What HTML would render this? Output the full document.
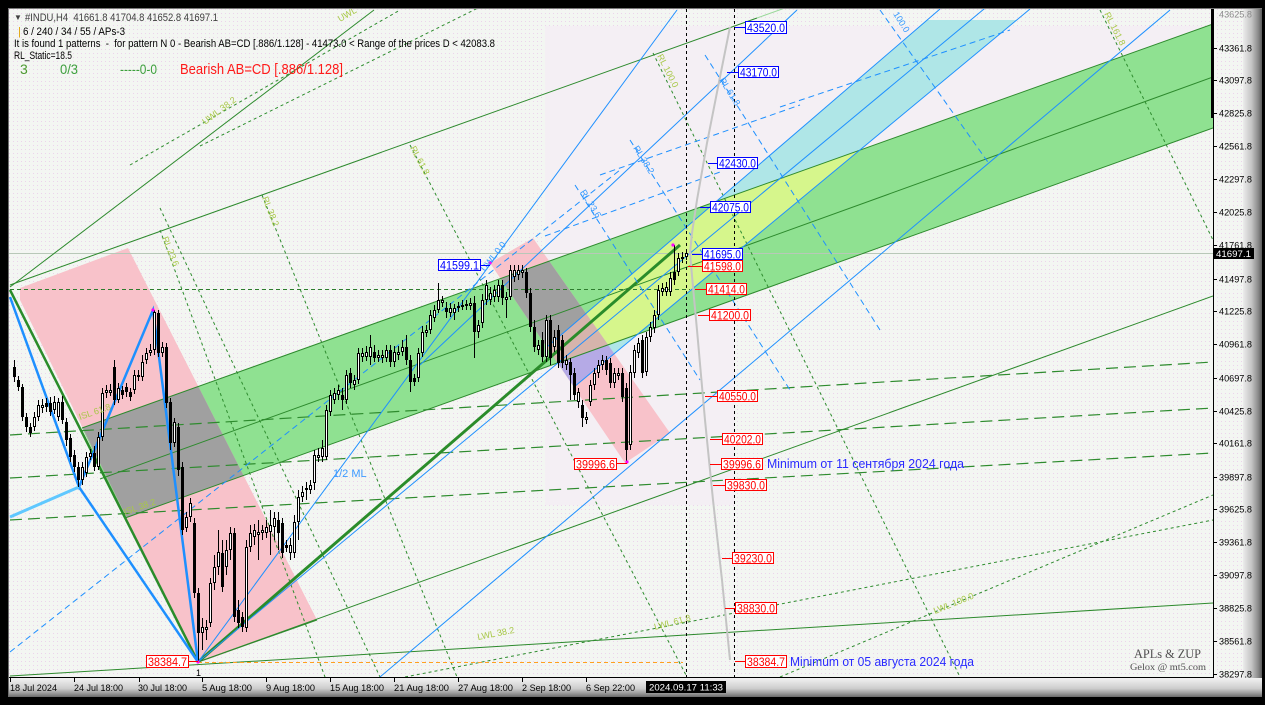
<!DOCTYPE html>
<html><head><meta charset="utf-8"><style>
html,body{margin:0;padding:0;background:#000;width:1265px;height:705px;overflow:hidden}
svg{display:block}
text{font-family:"Liberation Sans","DejaVu Sans",sans-serif}
</style></head><body>
<svg width="1265" height="705" viewBox="0 0 1265 705" xmlns="http://www.w3.org/2000/svg">
<defs>
<pattern id="dots" width="4" height="4" patternUnits="userSpaceOnUse"><rect width="4" height="4" fill="#f3f6f2"/><rect x="1" y="1" width="1" height="1" fill="#ecd3ec"/></pattern>
<linearGradient id="rb" x1="0" y1="0" x2="1" y2="0"><stop offset="0" stop-color="#ececec"/><stop offset="0.45" stop-color="#c4c4c4"/><stop offset="0.8" stop-color="#8a8a8a"/><stop offset="1" stop-color="#5a5a5a"/></linearGradient>
<linearGradient id="bb" x1="0" y1="0" x2="0" y2="1"><stop offset="0" stop-color="#f2f2f2"/><stop offset="0.55" stop-color="#cdcdcd"/><stop offset="0.8" stop-color="#9a9a9a"/><stop offset="1" stop-color="#6a6a6a"/></linearGradient>
<clipPath id="pc"><rect x="9" y="9" width="1204" height="668"/></clipPath>
<clipPath id="gc"><polygon points="82,428 1213,24 1213,128 125,518"/></clipPath>
<clipPath id="p2c"><polygon points="490,263 533,238 670,433 625,463"/></clipPath>
</defs>

<rect x="0" y="0" width="1265" height="705" fill="#000"/>
<rect x="9" y="9" width="1250" height="688" fill="url(#dots)"/>
<rect x="1243" y="9" width="19" height="688" fill="url(#rb)"/>
<rect x="9" y="678" width="1253" height="19" fill="url(#bb)"/>
<line x1="8.5" y1="8" x2="8.5" y2="697" stroke="#6e6e6e"/>
<line x1="8" y1="8.5" x2="1262" y2="8.5" stroke="#7a7a7a"/>

<g clip-path="url(#pc)">
<polygon points="545,26 1213,26 1213,128 735,299 735,505 545,505" fill="#f4eff4"/>
<polygon points="82,428 1213,24 1213,128 125,518" fill="#8fe191"/>
<polygon points="20,288 128,248 317,620 198,663 20,300" fill="#f8c2ca"/>
<polygon points="490,263 533,238 670,433 625,463" fill="#f8c2ca"/>
<polygon points="927,20 1017,20 574,387 547,347" fill="#afe6e7"/>
<g clip-path="url(#gc)">
<polygon points="20,288 128,248 317,620 198,663 20,300" fill="#a0a0a0"/>
<polygon points="490,263 533,238 670,433 625,463" fill="#a0a0a0"/>
<polygon points="927,20 1017,20 574,387 547,347" fill="#d6f68c"/>
</g>
<polygon points="927,20 1017,20 574,387 547,347" fill="#b5aae6" clip-path="url(#p2c)"/>
<g clip-path="url(#gc)"><polygon points="927,20 1017,20 574,387 547,347" fill="#d6b4ac" clip-path="url(#p2c)"/></g>

<line x1="9" y1="253.5" x2="1213" y2="253.5" stroke="#b8c8b8"/>

<g stroke="#2d8a2d" stroke-width="1" fill="none">
<line x1="10" y1="285" x2="757" y2="18"/>
<line x1="757" y1="18" x2="785" y2="8" stroke="#9ad89a"/>
<line x1="82" y1="428" x2="1213" y2="24"/>
<line x1="100" y1="479" x2="1213" y2="77"/>
<line x1="125" y1="518" x2="1213" y2="128"/>
<line x1="198" y1="662" x2="1213" y2="296"/>
<line x1="10" y1="676" x2="1213" y2="603"/>
<line x1="10" y1="287" x2="374" y2="10"/>
<line x1="198" y1="662" x2="317" y2="620"/>
</g>
<g stroke="#2a8c2a" fill="none">
<line x1="198" y1="662" x2="680" y2="245" stroke-width="3"/>
<line x1="10" y1="290" x2="198" y2="662" stroke-width="2.5"/>
</g>
<g stroke="#2e8b2e" stroke-width="1.2" stroke-dasharray="12 6" fill="none">
<line x1="10" y1="435" x2="1213" y2="362"/>
<line x1="10" y1="478" x2="1213" y2="408"/>
<line x1="10" y1="520" x2="1213" y2="453"/>
</g>
<g stroke="#2e8b2e" stroke-width="1" stroke-dasharray="3 3" fill="none">
<line x1="160" y1="230" x2="325" y2="677"/>
<line x1="160" y1="208" x2="380" y2="677"/>
<line x1="262" y1="195" x2="457" y2="677"/>
<line x1="410" y1="145" x2="687" y2="677"/>
<line x1="653" y1="53" x2="960" y2="677"/>
<line x1="1100" y1="10" x2="1213" y2="240"/>
<line x1="405" y1="677" x2="1213" y2="520"/>
<line x1="780" y1="677" x2="1213" y2="495"/>
<line x1="130" y1="165" x2="400" y2="10"/>
<line x1="200" y1="146" x2="480" y2="7"/>
</g>
<line x1="10" y1="289.5" x2="690" y2="289.5" stroke="#2e7d2e" stroke-dasharray="4 3"/>
<line x1="198" y1="662.5" x2="683" y2="662.5" stroke="#ffa020" stroke-dasharray="4 3"/>

<g stroke="#1e90ff" stroke-width="1" fill="none">
<line x1="198" y1="662" x2="677" y2="10"/>
<line x1="380" y1="677" x2="1170" y2="10"/>
<line x1="420" y1="365" x2="797" y2="10"/>
<line x1="198" y1="662" x2="990" y2="4"/>
<line x1="940" y1="9" x2="547" y2="347"/>
<line x1="1030" y1="9" x2="574" y2="387"/>
</g>
<g stroke="#1e90ff" stroke-width="1" stroke-dasharray="6 4" fill="none">
<line x1="10" y1="652" x2="620" y2="170"/>
<line x1="545" y1="236" x2="720" y2="172"/>
<line x1="600" y1="175" x2="800" y2="105"/>
<line x1="780" y1="107" x2="1010" y2="30"/>
<line x1="880" y1="10" x2="990" y2="165"/>
<line x1="705" y1="55" x2="880" y2="330"/>
<line x1="630" y1="140" x2="790" y2="390"/>
<line x1="575" y1="185" x2="700" y2="380"/>
</g>
<polyline points="10,297 79,487 153,310 198,662" stroke="#1e90ff" stroke-width="2.5" fill="none"/>
<line x1="79" y1="487" x2="198" y2="662" stroke="#1e90ff" stroke-width="2.5"/>
<line x1="10" y1="517" x2="79" y2="487" stroke="#5fc8ff" stroke-width="3"/>

<polyline points="730,27 720,77 707,143 697,200 692,233 690,253 693,287 697,330 705,420 713,500 722,580 730,660" stroke="#c4c4c4" stroke-width="2" fill="none"/>

<line x1="686.5" y1="9" x2="686.5" y2="677" stroke="#000" stroke-dasharray="3 3"/>
<line x1="734.5" y1="9" x2="734.5" y2="677" stroke="#000" stroke-dasharray="3 3"/>

<path stroke="#000" stroke-width="1" fill="none" d="M14.5 360V382M18.5 376V391M22.5 384V421M26.5 413V432M30.5 423V437M34.5 412V431M38.5 400V421M42.5 399V413M46.5 398V412M50.5 397V416M54.5 396V414M58.5 398V421M62.5 396V424M66.5 418V446M70.5 434V462M74.5 450V472M78.5 462V487M82.5 462V485M86.5 452V477M90.5 449V460M94.5 446V471M98.5 432V470M102.5 388V441M106.5 385V398M110.5 384V396M114.5 360V405M118.5 383V403M122.5 386V399M126.5 383V397M130.5 388V401M134.5 370V394M138.5 370V381M142.5 355V381M146.5 348V364M150.5 344V356M154.5 310V355M158.5 310V357M162.5 342V357M166.5 343V408M170.5 398V450M174.5 418V447M178.5 423V476M182.5 462V535M186.5 512V532M190.5 498V522M194.5 518V598M198.5 588V662M202.5 618V650M206.5 620V640M210.5 578V627M214.5 555V590M218.5 530V575M222.5 540V592M226.5 540V575M230.5 527V560M234.5 528V622M238.5 600V628M242.5 612V632M246.5 540V632M250.5 525V552M254.5 524V545M258.5 520V560M262.5 525V540M266.5 520V538M270.5 510V555M274.5 512V540M278.5 512V550M282.5 518V558M286.5 540V552M290.5 538V560M294.5 515V558M298.5 490V540M302.5 486V502M306.5 482V500M310.5 480V494M314.5 450V490M318.5 448V462M322.5 440V462M326.5 405V460M330.5 390V416M334.5 388V404M338.5 385V400M342.5 388V410M346.5 370V404M350.5 368V388M354.5 375V390M358.5 348V384M362.5 348V362M366.5 346V361M370.5 335V365M374.5 345V362M378.5 350V362M382.5 350V363M386.5 345V362M390.5 345V367M394.5 346V367M398.5 346V360M402.5 340V356M406.5 335V365M410.5 355V392M414.5 374V386M418.5 348V382M422.5 326V357M426.5 325V337M430.5 310V334M434.5 305V322M438.5 283V313M442.5 296V307M446.5 302V318M450.5 303V317M454.5 304V320M458.5 302V312M462.5 300V310M466.5 300V310M470.5 298V310M474.5 296V358M478.5 320V338M482.5 294V328M486.5 280V305M490.5 287V305M494.5 285V302M498.5 280V302M502.5 280V305M506.5 292V318M510.5 265V300M514.5 265V282M518.5 265V280M522.5 265V278M526.5 268V298M530.5 288V332M534.5 320V352M538.5 340V355M542.5 332V362M546.5 315V362M550.5 315V365M554.5 330V352M558.5 325V368M562.5 335V368M566.5 355V370M570.5 358V400M574.5 368V400M578.5 388V408M582.5 400V427M586.5 412V424M590.5 380V406M594.5 368V390M598.5 360V378M602.5 355V370M606.5 356V375M610.5 358V388M614.5 368V388M618.5 368V380M622.5 368V402M626.5 383V462M630.5 365V450M634.5 345V378M638.5 338V358M642.5 335V378M646.5 332V376M650.5 322V342M654.5 310V333M658.5 285V320M662.5 283V296M666.5 282V296M670.5 272V296M674.5 245V285M678.5 253V276M682.5 252V263M686.5 250V260"/>
<path fill="#000" d="M13 367h3v10h-3zM17 380h3v7h-3zM21 387h3v30h-3zM25 417h3v10h-3zM29 427h3v6h-3zM45 403h3v4h-3zM49 403h3v9h-3zM61 402h3v18h-3zM65 422h3v18h-3zM69 438h3v19h-3zM73 455h3v12h-3zM77 467h3v13h-3zM93 453h3v14h-3zM113 367h3v33h-3zM121 390h3v5h-3zM125 387h3v5h-3zM129 392h3v5h-3zM157 313h3v40h-3zM165 347h3v56h-3zM169 402h3v41h-3zM177 427h3v43h-3zM181 467h3v63h-3zM193 523h3v70h-3zM197 593h3v40h-3zM221 553h3v34h-3zM233 533h3v84h-3zM237 610h3v13h-3zM241 617h3v10h-3zM277 520h3v13h-3zM281 523h3v30h-3zM285 545h3v3h-3zM341 395h3v5h-3zM349 373h3v10h-3zM373 352h3v6h-3zM389 350h3v12h-3zM405 347h3v13h-3zM409 360h3v22h-3zM413 378h3v4h-3zM445 308h3v4h-3zM473 303h3v29h-3zM501 285h3v13h-3zM525 272h3v21h-3zM529 293h3v34h-3zM533 327h3v20h-3zM541 340h3v17h-3zM549 320h3v38h-3zM557 330h3v33h-3zM561 340h3v23h-3zM569 362h3v13h-3zM573 373h3v22h-3zM581 405h3v13h-3zM605 360h3v10h-3zM609 363h3v20h-3zM621 373h3v24h-3zM625 388h3v62h-3zM641 340h3v33h-3zM673 272h3v8h-3z"/>
<path fill="#fff" stroke="#000" stroke-width="1" d="M33.5 417.5h2v9h-2zM37.5 405.5h2v11h-2zM41.5 405.5h2v2h-2zM53.5 402.5h2v7h-2zM57.5 402.5h2v14h-2zM81.5 467.5h2v12h-2zM85.5 457.5h2v15h-2zM89.5 453.5h2v3h-2zM97.5 437.5h2v29h-2zM101.5 393.5h2v43h-2zM105.5 390.5h2v2h-2zM109.5 390.5h2v2h-2zM117.5 388.5h2v11h-2zM133.5 375.5h2v14h-2zM137.5 375.5h2v1h-2zM141.5 362.5h2v14h-2zM145.5 353.5h2v6h-2zM149.5 350.5h2v2h-2zM153.5 312.5h2v37h-2zM161.5 347.5h2v5h-2zM173.5 422.5h2v20h-2zM185.5 517.5h2v10h-2zM189.5 503.5h2v13h-2zM201.5 627.5h2v5h-2zM205.5 627.5h2v2h-2zM209.5 583.5h2v39h-2zM213.5 567.5h2v15h-2zM217.5 552.5h2v14h-2zM225.5 550.5h2v16h-2zM229.5 533.5h2v16h-2zM245.5 547.5h2v80h-2zM249.5 533.5h2v13h-2zM253.5 530.5h2v6h-2zM257.5 532.5h2v2h-2zM261.5 530.5h2v2h-2zM265.5 527.5h2v5h-2zM269.5 525.5h2v6h-2zM273.5 518.5h2v8h-2zM289.5 545.5h2v7h-2zM293.5 522.5h2v30h-2zM297.5 497.5h2v24h-2zM301.5 492.5h2v4h-2zM305.5 488.5h2v1h-2zM309.5 485.5h2v4h-2zM313.5 455.5h2v27h-2zM317.5 455.5h2v2h-2zM321.5 448.5h2v8h-2zM325.5 410.5h2v46h-2zM329.5 395.5h2v16h-2zM333.5 393.5h2v6h-2zM337.5 390.5h2v4h-2zM345.5 375.5h2v24h-2zM353.5 380.5h2v4h-2zM357.5 353.5h2v26h-2zM361.5 353.5h2v3h-2zM365.5 352.5h2v4h-2zM369.5 347.5h2v9h-2zM377.5 355.5h2v2h-2zM381.5 355.5h2v2h-2zM385.5 350.5h2v7h-2zM393.5 352.5h2v9h-2zM397.5 352.5h2v2h-2zM401.5 347.5h2v4h-2zM417.5 353.5h2v24h-2zM421.5 332.5h2v20h-2zM425.5 330.5h2v2h-2zM429.5 315.5h2v14h-2zM433.5 310.5h2v7h-2zM437.5 300.5h2v9h-2zM441.5 300.5h2v2h-2zM449.5 308.5h2v4h-2zM453.5 308.5h2v4h-2zM457.5 306.5h2v1h-2zM461.5 305.5h2v1h-2zM465.5 304.5h2v1h-2zM469.5 303.5h2v2h-2zM477.5 325.5h2v6h-2zM481.5 300.5h2v22h-2zM485.5 285.5h2v14h-2zM489.5 293.5h2v6h-2zM493.5 290.5h2v6h-2zM497.5 285.5h2v11h-2zM505.5 297.5h2v2h-2zM509.5 270.5h2v26h-2zM513.5 270.5h2v6h-2zM517.5 270.5h2v4h-2zM521.5 270.5h2v2h-2zM537.5 345.5h2v4h-2zM545.5 320.5h2v36h-2zM553.5 337.5h2v9h-2zM565.5 360.5h2v4h-2zM577.5 392.5h2v9h-2zM585.5 417.5h2v2h-2zM589.5 385.5h2v16h-2zM593.5 373.5h2v11h-2zM597.5 365.5h2v7h-2zM601.5 360.5h2v4h-2zM613.5 373.5h2v9h-2zM617.5 373.5h2v2h-2zM629.5 372.5h2v72h-2zM633.5 350.5h2v22h-2zM637.5 343.5h2v9h-2zM645.5 337.5h2v34h-2zM649.5 327.5h2v9h-2zM653.5 315.5h2v12h-2zM657.5 290.5h2v24h-2zM661.5 288.5h2v3h-2zM665.5 287.5h2v4h-2zM669.5 278.5h2v13h-2zM677.5 258.5h2v13h-2zM681.5 257.5h2v1h-2zM685.5 253.5h2v3h-2z"/>

<g fill="#ff00ff"><circle cx="153" cy="310" r="1.6"/><circle cx="198" cy="662" r="1.6"/><circle cx="490" cy="263" r="1.6"/><circle cx="673" cy="245" r="1.6"/><circle cx="627" cy="462" r="1.6"/></g>

<g font-size="9" fill="#a8c848">
<text x="205" y="125" transform="rotate(-37 205 125)">UWL 38.2</text>
<text x="340" y="22" transform="rotate(-30 340 22)">UWL</text>
<text x="162" y="238" transform="rotate(68 162 238)">RL 23.6</text>
<text x="262" y="198" transform="rotate(68 262 198)">RL 38.2</text>
<text x="410" y="148" transform="rotate(62 410 148)">RL 61.8</text>
<text x="657" y="56" transform="rotate(63 657 56)">RL 100.0</text>
<text x="1104" y="14" transform="rotate(63 1104 14)">RL 161.8</text>
<text x="478" y="640" transform="rotate(-11 478 640)">LWL 38.2</text>
<text x="655" y="630" transform="rotate(-15 655 630)">LWL 61.8</text>
<text x="935" y="614" transform="rotate(-22 935 614)">LWL 100.0</text>
<text x="80" y="420" transform="rotate(-19 80 420)">ISL 61.8</text>
<text x="125" y="515" transform="rotate(-19 125 515)">ISL 38.2</text>
</g>
<g font-size="9" fill="#3399ff">
<text x="485" y="272" transform="rotate(-52 485 272)">UWL 0.0</text>
<text x="580" y="192" transform="rotate(58 580 192)">RL 23.6</text>
<text x="633" y="148" transform="rotate(58 633 148)">RL 38.2</text>
<text x="719" y="80" transform="rotate(58 719 80)">RL 61.8</text>
<text x="893" y="14" transform="rotate(58 893 14)">100.0</text>
</g>
<text x="333" y="477" font-size="11" fill="#3d9bff">1/2 ML</text>
<text x="196" y="676" font-size="9" fill="#000">1</text>

<g stroke-width="1">
<path stroke="#0000ff" d="M735 27.5h10M727 72.5h11M708 163.5h9M700 207.5h10M692 254.5h10M481 265.5h9"/>
<path stroke="#ff0000" d="M688 266.5h14M695 289.5h11M698 315.5h11M705 396.5h12M710 439.5h12M710 464.5h11M713 485.5h12M722 558.5h10M725 608.5h10M735 661.5h10M617 463.5h10M189 661.5h9"/>
</g>
<g fill="#fff" stroke="#0000ff" stroke-width="1">
<rect x="745.5" y="21.5" width="41" height="12"/>
<rect x="738.5" y="66.5" width="40" height="11"/>
<rect x="717.5" y="157.5" width="40" height="11"/>
<rect x="710.5" y="201.5" width="40" height="11"/>
<rect x="702.5" y="248.5" width="40" height="11"/>
<rect x="438.5" y="259.5" width="42" height="11"/>
</g>
<g font-size="12" fill="#0000ff">
<text x="747" y="32" textLength="38" lengthAdjust="spacingAndGlyphs">43520.0</text>
<text x="740" y="76.5" textLength="37" lengthAdjust="spacingAndGlyphs">43170.0</text>
<text x="719" y="167.5" textLength="37" lengthAdjust="spacingAndGlyphs">42430.0</text>
<text x="712" y="211.5" textLength="37" lengthAdjust="spacingAndGlyphs">42075.0</text>
<text x="704" y="258.5" textLength="37" lengthAdjust="spacingAndGlyphs">41695.0</text>
<text x="440" y="269.5" textLength="39" lengthAdjust="spacingAndGlyphs">41599.1</text>
</g>
<g fill="#fff" stroke="#ff0000" stroke-width="1">
<rect x="702.5" y="260.5" width="40" height="11"/>
<rect x="706.5" y="283.5" width="40" height="11"/>
<rect x="709.5" y="309.5" width="41" height="11"/>
<rect x="717.5" y="390.5" width="40" height="11"/>
<rect x="722.5" y="433.5" width="40" height="11"/>
<rect x="721.5" y="458.5" width="41" height="11"/>
<rect x="725.5" y="479.5" width="41" height="11"/>
<rect x="732.5" y="552.5" width="41" height="11"/>
<rect x="735.5" y="602.5" width="41" height="11"/>
<rect x="745.5" y="655.5" width="41" height="12"/>
<rect x="574.5" y="458.5" width="42" height="11"/>
<rect x="146.5" y="655.5" width="42" height="12"/>
</g>
<g font-size="12" fill="#ff0000">
<text x="704" y="270.5" textLength="37" lengthAdjust="spacingAndGlyphs">41598.0</text>
<text x="708" y="293.5" textLength="37" lengthAdjust="spacingAndGlyphs">41414.0</text>
<text x="711" y="319.5" textLength="38" lengthAdjust="spacingAndGlyphs">41200.0</text>
<text x="719" y="400.5" textLength="37" lengthAdjust="spacingAndGlyphs">40550.0</text>
<text x="724" y="443.5" textLength="37" lengthAdjust="spacingAndGlyphs">40202.0</text>
<text x="723" y="468.5" textLength="38" lengthAdjust="spacingAndGlyphs">39996.6</text>
<text x="727" y="489.5" textLength="38" lengthAdjust="spacingAndGlyphs">39830.0</text>
<text x="734" y="562.5" textLength="38" lengthAdjust="spacingAndGlyphs">39230.0</text>
<text x="737" y="612.5" textLength="38" lengthAdjust="spacingAndGlyphs">38830.0</text>
<text x="747" y="666" textLength="38" lengthAdjust="spacingAndGlyphs">38384.7</text>
<text x="576" y="468.5" textLength="39" lengthAdjust="spacingAndGlyphs">39996.6</text>
<text x="148" y="666" textLength="39" lengthAdjust="spacingAndGlyphs">38384.7</text>
</g>
<text x="767" y="468" font-size="12.5" fill="#2a2aff" textLength="197" lengthAdjust="spacingAndGlyphs">Minimum от 11 сентября 2024 года</text>
<text x="790" y="666" font-size="12.5" fill="#2a2aff" textLength="184" lengthAdjust="spacingAndGlyphs">Minimum от 05 августа 2024 года</text>

<text x="1134" y="658" font-size="13" fill="#505050" style="font-family:'Liberation Serif',serif" textLength="67" lengthAdjust="spacingAndGlyphs">APLs &amp; ZUP</text>
<text x="1130" y="670" font-size="9.5" fill="#505050" style="font-family:'Liberation Serif',serif" textLength="76" lengthAdjust="spacingAndGlyphs">Gelox @ mt5.com</text>

<text x="14" y="20" font-size="8" fill="#404040">▼</text>
<text x="25" y="21" font-size="11" fill="#404040" textLength="193" lengthAdjust="spacingAndGlyphs" xml:space="preserve">#INDU,H4  41661.8 41704.8 41652.8 41697.1</text>
<text x="18" y="35" font-size="11" fill="#e0a000">|</text>
<text x="23" y="35" font-size="11" fill="#000" textLength="102" lengthAdjust="spacingAndGlyphs">6 / 240 / 34 / 55 / APs-3</text>
<text x="14" y="47" font-size="11" fill="#000" textLength="481" lengthAdjust="spacingAndGlyphs" xml:space="preserve">It is found 1 patterns  -  for pattern N 0 - Bearish AB=CD [.886/1.128] - 41473.0 &lt; Range of the prices D &lt; 42083.8</text>
<text x="14" y="59" font-size="11" fill="#000" textLength="58" lengthAdjust="spacingAndGlyphs">RL_Static=18.5</text>
<text x="20" y="74" font-size="14" fill="#4c9a30">3</text>
<text x="60" y="74" font-size="14" fill="#3ca03c" textLength="18" lengthAdjust="spacingAndGlyphs">0/3</text>
<text x="120" y="74" font-size="14" fill="#3ca03c" textLength="37" lengthAdjust="spacingAndGlyphs">-----0-0</text>
<text x="180" y="74" font-size="15" fill="#ff1a1a" textLength="163" lengthAdjust="spacingAndGlyphs">Bearish AB=CD [.886/1.128]</text>
</g>

<line x1="9" y1="677.5" x2="1214" y2="677.5" stroke="#000"/>
<line x1="1213.5" y1="9" x2="1213.5" y2="678" stroke="#000"/>
<rect x="1211" y="9" width="3" height="109" fill="#000"/>
<path stroke="#000" d="M1213 48.5h4M1213 80.5h4M1213 113.5h4M1213 146.5h4M1213 179.5h4M1213 212.5h4M1213 245.5h4M1213 279.5h4M1213 311.5h4M1213 344.5h4M1213 378.5h4M1213 411.5h4M1213 443.5h4M1213 477.5h4M1213 509.5h4M1213 542.5h4M1213 575.5h4M1213 608.5h4M1213 641.5h4M1213 674.5h4"/>
<path stroke="#000" d="M10.5 678v4M74.5 678v4M139.5 678v4M202.5 678v4M266.5 678v4M330.5 678v4M394.5 678v4M458.5 678v4M522.5 678v4M586.5 678v4"/>
<g font-size="9.5" fill="#000">
<text x="1219" y="17.5" fill="#8a8a8a" textLength="33" lengthAdjust="spacingAndGlyphs">43625.8</text>
<text x="1219" y="51.5" textLength="33" lengthAdjust="spacingAndGlyphs">43361.8</text>
<text x="1219" y="83.5" textLength="33" lengthAdjust="spacingAndGlyphs">43097.8</text>
<text x="1219" y="116.5" textLength="33" lengthAdjust="spacingAndGlyphs">42825.8</text>
<text x="1219" y="149.5" textLength="33" lengthAdjust="spacingAndGlyphs">42561.8</text>
<text x="1219" y="182.5" textLength="33" lengthAdjust="spacingAndGlyphs">42297.8</text>
<text x="1219" y="215.5" textLength="33" lengthAdjust="spacingAndGlyphs">42025.8</text>
<text x="1219" y="248.5" textLength="33" lengthAdjust="spacingAndGlyphs">41761.8</text>
<text x="1219" y="282.5" textLength="33" lengthAdjust="spacingAndGlyphs">41497.8</text>
<text x="1219" y="314.5" textLength="33" lengthAdjust="spacingAndGlyphs">41225.8</text>
<text x="1219" y="347.5" textLength="33" lengthAdjust="spacingAndGlyphs">40961.8</text>
<text x="1219" y="381.5" textLength="33" lengthAdjust="spacingAndGlyphs">40697.8</text>
<text x="1219" y="414.5" textLength="33" lengthAdjust="spacingAndGlyphs">40425.8</text>
<text x="1219" y="446.5" textLength="33" lengthAdjust="spacingAndGlyphs">40161.8</text>
<text x="1219" y="480.5" textLength="33" lengthAdjust="spacingAndGlyphs">39897.8</text>
<text x="1219" y="512.5" textLength="33" lengthAdjust="spacingAndGlyphs">39625.8</text>
<text x="1219" y="545.5" textLength="33" lengthAdjust="spacingAndGlyphs">39361.8</text>
<text x="1219" y="578.5" textLength="33" lengthAdjust="spacingAndGlyphs">39097.8</text>
<text x="1219" y="611.5" textLength="33" lengthAdjust="spacingAndGlyphs">38825.8</text>
<text x="1219" y="644.5" textLength="33" lengthAdjust="spacingAndGlyphs">38561.8</text>
<text x="1219" y="677.5" textLength="33" lengthAdjust="spacingAndGlyphs">38297.8</text>
</g>
<rect x="1214" y="248" width="40" height="11" fill="#000"/>
<text x="1216" y="257" font-size="9.5" fill="#fff" textLength="35" lengthAdjust="spacingAndGlyphs">41697.1</text>

<g font-size="9.5" fill="#000">
<text x="10" y="691" textLength="47" lengthAdjust="spacingAndGlyphs">18 Jul 2024</text>
<text x="74" y="691" textLength="49" lengthAdjust="spacingAndGlyphs">24 Jul 18:00</text>
<text x="138" y="691" textLength="49" lengthAdjust="spacingAndGlyphs">30 Jul 18:00</text>
<text x="202" y="691" textLength="50" lengthAdjust="spacingAndGlyphs">5 Aug 18:00</text>
<text x="266" y="691" textLength="49" lengthAdjust="spacingAndGlyphs">9 Aug 18:00</text>
<text x="330" y="691" textLength="54" lengthAdjust="spacingAndGlyphs">15 Aug 18:00</text>
<text x="394" y="691" textLength="55" lengthAdjust="spacingAndGlyphs">21 Aug 18:00</text>
<text x="458" y="691" textLength="55" lengthAdjust="spacingAndGlyphs">27 Aug 18:00</text>
<text x="522" y="691" textLength="49" lengthAdjust="spacingAndGlyphs">2 Sep 18:00</text>
<text x="586" y="691" textLength="49" lengthAdjust="spacingAndGlyphs">6 Sep 22:00</text>
</g>
<rect x="646" y="681" width="80" height="12" fill="#000"/>
<text x="649" y="690.5" font-size="9.5" fill="#fff" textLength="74" lengthAdjust="spacingAndGlyphs">2024.09.17 11:33</text>
</svg>
</body></html>
